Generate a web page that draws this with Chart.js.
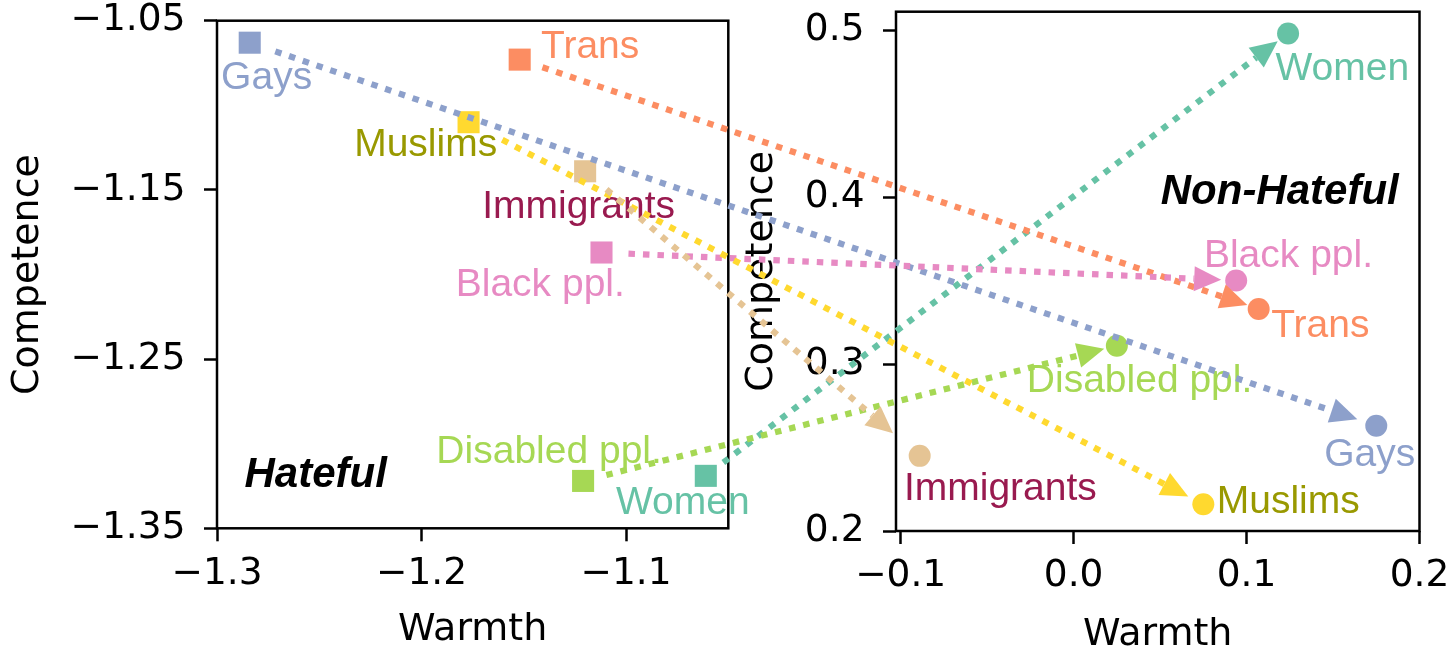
<!DOCTYPE html>
<html>
<head>
<meta charset="utf-8">
<script src="https://cdn.jsdelivr.net/npm/chart.js@4/dist/chart.umd.min.js"></script>
<style>
  html, body { margin: 0; padding: 0; background: #fff; }
  #wrap { position: relative; width: 1456px; height: 656px; }
  #wrap canvas { position: absolute; left: 0; top: 0; }
</style>
</head>
<body>
<div id="wrap">
  <canvas id="hateful" width="1456" height="656"></canvas>
  <canvas id="nonHateful" width="1456" height="656"></canvas>
</div>
<script>
// Target groups, in drawing order
const groups = ['Women', 'Trans', 'Gays', 'Black ppl.', 'Disabled ppl.', 'Muslims', 'Immigrants'];

// Hateful context (square markers)
const hatefulWarmth     = [-1.061, -1.152, -1.284, -1.112, -1.121, -1.177, -1.120];
const hatefulCompetence = [-1.319, -1.073, -1.063, -1.187, -1.322, -1.110, -1.139];

// Non-hateful context (round markers)
const nonHatefulWarmth     = [0.124, 0.107, 0.175, 0.094, 0.025, 0.075, -0.089];
const nonHatefulCompetence = [0.498, 0.333, 0.263, 0.350, 0.311, 0.216, 0.245];

// Axis ticks
const hatefulWarmthTicks        = [-1.3, -1.2, -1.1];
const hatefulCompetenceTicks    = [-1.35, -1.25, -1.15, -1.05];
const nonHatefulWarmthTicks     = [-0.1, 0.0, 0.1, 0.2];
const nonHatefulCompetenceTicks = [0.2, 0.3, 0.4, 0.5];

// ---- styling ----
const markerColors = ['#66c2a5', '#fc8d62', '#8da0cb', '#e78ac3', '#a6d854', '#ffd92f', '#e5c494'];
const labelColors  = ['#66c2a5', '#fc8d62', '#8da0cb', '#e78ac3', '#a6d854', '#999900', '#991a4f'];
// label placement relative to each marker: [dx, dy] of the text's centre/baseline in px
const hatefulLabelOffsets    = [[-23, 38.5], [70.5, -1.9], [16.9, 46.1], [-61.2, 43.5], [-34, -18], [-42.9, 34.2], [-6.5, 46.8]];
const nonHatefulLabelOffsets = [[54.2, 46.7], [61.7, 28], [-6.5, 40], [52.3, -13.7], [22.7, 46.7], [84.9, 9], [80.7, 44]];
// gap (px) between each arrow and its start / end marker
const arrowStartGap = [22, 24, 27, 27, 24, 38, 28];
const arrowEndGap   = [13, 12, 20, 15, 13, 17, 35];

const TICK_FONT = { family: '"DejaVu Sans", sans-serif', size: 37.5 };
const TITLE_FONT = { family: '"DejaVu Sans", sans-serif', size: 38 };
const LABEL_FONT = '39px "Liberation Sans", Arial, sans-serif';
const PANEL_FONT = 'italic bold 42px "Liberation Sans", Arial, sans-serif';

const fmt = (digits) => (v) => {
  const s = Number(v).toFixed(digits);
  return s.replace('-', '\u2212');
};

// frame around the plot area, group labels and the panel name
const panelDecor = {
  id: 'panelDecor',
  beforeDatasetsDraw(chart) {
    const { ctx, chartArea: a } = chart;
    ctx.save();
    ctx.strokeStyle = '#000';
    ctx.lineWidth = 2.5;
    ctx.strokeRect(a.left, a.top, a.right - a.left, a.bottom - a.top);
    ctx.restore();
  },
  afterDatasetsDraw(chart, args, opts) {
    const { ctx, chartArea: a } = chart;
    const meta = chart.getDatasetMeta(0);
    ctx.save();
    ctx.textAlign = 'center';
    ctx.textBaseline = 'alphabetic';
    ctx.font = LABEL_FONT;
    meta.data.forEach((pt, i) => {
      const [dx, dy] = opts.offsets[i];
      ctx.fillStyle = labelColors[i];
      ctx.fillText(groups[i], pt.x + dx, pt.y + dy);
    });
    ctx.font = PANEL_FONT;
    ctx.fillStyle = '#000';
    ctx.fillText(opts.name,
      a.left + opts.namePos[0] * (a.right - a.left),
      a.top + opts.namePos[1] * (a.bottom - a.top));
    ctx.restore();
  }
};

function axisFit(size, horizontal) {
  return (s) => {
    if (horizontal) s.height = size; else s.width = size;
    s.paddingTop = 0; s.paddingBottom = 0; s.paddingLeft = 0; s.paddingRight = 0;
  };
}

function makePanel(canvasId, cfg) {
  return new Chart(document.getElementById(canvasId), {
    type: 'scatter',
    data: {
      datasets: [{
        data: cfg.x.map((x, i) => ({ x, y: cfg.y[i] })),
        pointStyle: cfg.pointStyle,
        pointRadius: cfg.radius,
        pointHoverRadius: cfg.radius,
        backgroundColor: markerColors,
        borderWidth: 0,
        clip: false
      }]
    },
    options: {
      responsive: false,
      animation: false,
      events: [],
      layout: { padding: cfg.padding },
      plugins: {
        legend: { display: false },
        tooltip: { enabled: false },
        panelDecor: { offsets: cfg.offsets, name: cfg.name, namePos: cfg.namePos }
      },
      scales: {
        x: {
          type: 'linear',
          min: cfg.xRange[0], max: cfg.xRange[1],
          afterBuildTicks: (s) => { s.ticks = cfg.xTicks.map(v => ({ value: v })); },
          afterFit: axisFit(cfg.xAxisHeight, true),
          border: { display: false },
          grid: { drawOnChartArea: false, drawTicks: true, tickLength: 13, tickWidth: 2.5, tickColor: '#000' },
          ticks: { font: TICK_FONT, color: '#000', padding: 10, maxRotation: 0, autoSkip: false, callback: fmt(cfg.xDigits) },
          title: { display: true, text: 'Warmth', font: TITLE_FONT, color: '#000', padding: { top: 0, bottom: cfg.xTitlePad } }
        },
        y: {
          type: 'linear',
          min: cfg.yRange[0], max: cfg.yRange[1],
          afterBuildTicks: (s) => { s.ticks = cfg.yTicks.map(v => ({ value: v })); },
          afterFit: axisFit(cfg.yAxisWidth, false),
          border: { display: false },
          grid: { drawOnChartArea: false, drawTicks: true, tickLength: 13, tickWidth: 2.5, tickColor: '#000' },
          ticks: { font: TICK_FONT, color: '#000', padding: 18.5, autoSkip: false, callback: fmt(cfg.yDigits) },
          title: { display: true, text: 'Competence', font: TITLE_FONT, color: '#000', padding: { top: cfg.yTitlePad, bottom: 0 } }
        }
      }
    },
    plugins: [panelDecor].concat(cfg.extraPlugins || [])
  });
}

const hatefulChart = makePanel('hateful', {
  x: hatefulWarmth, y: hatefulCompetence,
  pointStyle: 'rect', radius: 15.6,
  xRange: [-1.3, -1.05], yRange: [-1.35, -1.05],
  xTicks: hatefulWarmthTicks, yTicks: hatefulCompetenceTicks,
  xDigits: 1, yDigits: 2,
  padding: { left: 0, top: 20.7, right: 727.7, bottom: 0 },
  yAxisWidth: 217, xAxisHeight: 127.7,
  yTitlePad: 5.7, xTitlePad: 3,
  offsets: hatefulLabelOffsets,
  name: 'Hateful', namePos: [0.193, 0.918]
});

// dotted arrows from each hateful position to the matching non-hateful one
const shiftArrows = {
  id: 'shiftArrows',
  afterDraw(chart) {
    const { ctx } = chart;
    const from = hatefulChart.getDatasetMeta(0).data;
    const to = chart.getDatasetMeta(0).data;
    const headLen = 27, headHalf = 12.5;
    ctx.save();
    groups.forEach((g, i) => {
      const sx = from[i].x, sy = from[i].y, ex = to[i].x, ey = to[i].y;
      const len = Math.hypot(ex - sx, ey - sy);
      const ux = (ex - sx) / len, uy = (ey - sy) / len;
      const ax = sx + ux * arrowStartGap[i], ay = sy + uy * arrowStartGap[i];
      const tx = ex - ux * arrowEndGap[i], ty = ey - uy * arrowEndGap[i];
      const bx = tx - ux * headLen, by = ty - uy * headLen;
      ctx.strokeStyle = markerColors[i];
      ctx.fillStyle = markerColors[i];
      ctx.lineWidth = 6.2;
      ctx.lineCap = 'butt';
      ctx.setLineDash([6.5, 8]);
      ctx.beginPath();
      ctx.moveTo(ax, ay);
      ctx.lineTo(bx, by);
      ctx.stroke();
      ctx.setLineDash([]);
      ctx.beginPath();
      ctx.moveTo(tx, ty);
      ctx.lineTo(bx - uy * headHalf, by + ux * headHalf);
      ctx.lineTo(bx + uy * headHalf, by - ux * headHalf);
      ctx.closePath();
      ctx.fill();
    });
    ctx.restore();
  }
};

const nonHatefulChart = makePanel('nonHateful', {
  x: nonHatefulWarmth, y: nonHatefulCompetence,
  pointStyle: 'circle', radius: 11,
  xRange: [-0.1027, 0.2], yRange: [0.2, 0.511],
  xTicks: nonHatefulWarmthTicks, yTicks: nonHatefulCompetenceTicks,
  xDigits: 1, yDigits: 1,
  padding: { left: 739, top: 11.7, right: 36.5, bottom: 0 },
  yAxisWidth: 157, xAxisHeight: 125,
  yTitlePad: 0, xTitlePad: -2,
  offsets: nonHatefulLabelOffsets,
  name: 'Non-Hateful', namePos: [0.733, 0.370],
  extraPlugins: [shiftArrows]
});
</script>
</body>
</html>
